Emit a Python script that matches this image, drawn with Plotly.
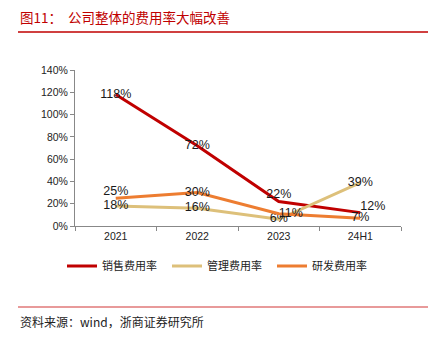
import plotly.graph_objects as go

categories = ["2021", "2022", "2023", "24H1"]
sales_rate = [118, 72, 22, 12]
admin_rate = [18, 16, 6, 39]
rd_rate = [25, 30, 11, 7]
y_ticks = [0, 20, 40, 60, 80, 100, 120, 140]

sales_pos = ["middle center", "middle center", "top center", "top right"]
admin_pos = ["middle center", "middle center", "middle center", "middle center"]
rd_pos = ["top center", "middle center", "middle right", "middle center"]

W, H = 438, 337
fig = go.Figure()

def add(name, vals, color, pos):
    fig.add_trace(go.Scatter(
        x=categories, y=vals, name=name, mode="lines+text",
        line=dict(color=color, width=3),
        text=[f"{v}%" for v in vals], textposition=pos,
        textfont=dict(family="Liberation Sans, Arial", size=12.5, color="#1a1a1a"),
        cliponaxis=False,
    ))

add("销售费用率", sales_rate, "#C00000", sales_pos)
add("管理费用率", admin_rate, "#DDC07A", admin_pos)
add("研发费用率", rd_rate, "#ED7D31", rd_pos)

fig.update_layout(
    width=W, height=H,
    margin=dict(l=75, r=37, t=70, b=111),
    paper_bgcolor="white", plot_bgcolor="white",
    showlegend=True,
    legend=dict(orientation="h", x=(62 - 75) / 326, xanchor="left",
                y=(226 - 266) / 156, yanchor="middle",
                font=dict(family="Noto Sans CJK SC", size=11, color="#222"),
                entrywidth=60, itemwidth=30, traceorder="normal"),
    xaxis=dict(type="category", range=[-0.5, 3.5], showline=True, linecolor="#888", linewidth=1,
               ticks="outside", ticklen=4, tickcolor="#888", tickson="boundaries",
               showgrid=False, tickfont=dict(family="Liberation Sans, Arial", size=10.5, color="#222")),
    yaxis=dict(range=[0, 140], tickvals=y_ticks, ticktext=[f"{v}%" for v in y_ticks],
               showline=True, linecolor="#888", linewidth=1, ticks="outside", ticklen=4,
               tickcolor="#888", showgrid=False, zeroline=False,
               tickfont=dict(family="Liberation Sans, Arial", size=10.5, color="#222")),
    shapes=[
        dict(type="line", xref="paper", yref="paper",
             x0=(18 - 75) / 326, x1=(428 - 75) / 326,
             y0=(226 - 32) / 156, y1=(226 - 32) / 156,
             line=dict(color="#C00000", width=1.5)),
        dict(type="line", xref="paper", yref="paper",
             x0=(18 - 75) / 326, x1=(428 - 75) / 326,
             y0=(226 - 307) / 156, y1=(226 - 307) / 156,
             line=dict(color="#E89A9A", width=2)),
    ],
    annotations=[
        dict(text="图11：  公司整体的费用率大幅改善", xref="paper", yref="paper",
             x=(18 - 75) / 326, y=(226 - 17) / 156, xanchor="left", yanchor="middle",
             showarrow=False, font=dict(family="Noto Sans CJK SC", size=13.5, color="#C00000")),
        dict(text="资料来源：wind，浙商证券研究所", xref="paper", yref="paper",
             x=(18 - 75) / 326, y=(226 - 321) / 156, xanchor="left", yanchor="middle",
             showarrow=False, font=dict(family="Noto Sans CJK SC", size=12, color="#222")),
    ],
)

fig.write_html("out.html")
